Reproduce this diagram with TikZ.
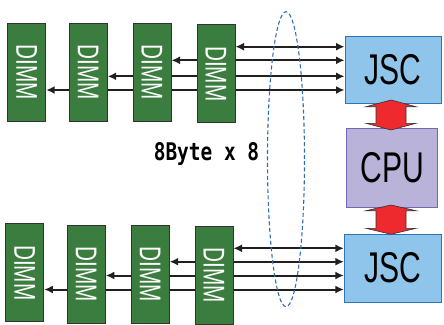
\documentclass[tikz,border=0pt]{standalone}
\usepackage{fontspec}
\usepackage{graphicx}
\setmainfont{Liberation Sans}
\newfontfamily\monob{DejaVu Sans Mono}
\usetikzlibrary{arrows.meta,backgrounds}
\definecolor{dimmgreen}{HTML}{3B7D3F}
\definecolor{dimmborder}{HTML}{333333}
\definecolor{jscfill}{HTML}{8FC5EA}
\definecolor{jscborder}{HTML}{2E75B6}
\definecolor{cpufill}{HTML}{B9B2D9}
\definecolor{cpuborder}{HTML}{6F6AB3}
\definecolor{redarrow}{HTML}{EE2A2F}
\definecolor{ellblue}{HTML}{2E6DB4}
\definecolor{linkcol}{HTML}{231F20}
\tikzset{
  dimm/.style={draw=dimmborder, line width=1pt, fill=dimmgreen, minimum width=38pt, minimum height=98pt, inner sep=0pt, text=white},
  jscbox/.style={draw=jscborder, line width=1pt, fill=jscfill, inner sep=0pt},
  cpubox/.style={draw=cpuborder, line width=1pt, fill=cpufill, inner sep=0pt},
  link/.style={draw=linkcol, line width=2pt, {Latex[length=8.5pt,width=8pt]}-{Latex[length=8.5pt,width=8pt]}},
  bigarrow/.style={draw=black!80, line width=0.6pt, fill=redarrow},
}
\newcommand{\dimmtext}{\rotatebox{-90}{\fontsize{30}{30}\selectfont\scalebox{0.69}[1]{DIMM}}}
\newcommand{\boxtext}[1]{\fontsize{43}{43}\selectfont\scalebox{0.7}[1]{#1}}
\begin{document}
\begin{tikzpicture}[x=1pt,y=-1pt]
\useasboundingbox (0,0) rectangle (444,324);
% boxes on the right
\node[jscbox, minimum width=96pt, minimum height=67pt] (jsc1) at (393,69.5) {\boxtext{JSC}};
\node[cpubox, minimum width=91pt, minimum height=79pt] (cpu) at (392.3,167.5) {\boxtext{CPU}};
\node[jscbox, minimum width=96.7pt, minimum height=68pt] (jsc2) at (392.7,268) {\boxtext{JSC}};
% DIMMs
\node[dimm] (d1) at (26.7,72.2) {\dimmtext};
\node[dimm] (d2) at (88.2,72.2) {\dimmtext};
\node[dimm] (d3) at (152,72.2) {\dimmtext};
\node[dimm] (d4) at (216,73.7) {\dimmtext};
\node[dimm] (e1) at (24.8,272.8) {\dimmtext};
\node[dimm] (e2) at (86.3,274) {\dimmtext};
\node[dimm] (e3) at (150.2,274) {\dimmtext};
\node[dimm] (e4) at (214,275) {\dimmtext};
% line heights
\coordinate (ya) at (0,46.7);
\coordinate (yb) at (0,60.3);
\coordinate (yc) at (0,76.3);
\coordinate (yd) at (0,90);
\coordinate (za) at (0,248.3);
\coordinate (zb) at (0,261.7);
\coordinate (zc) at (0,275.5);
\coordinate (zd) at (0,289.5);
\begin{scope}[on background layer]
\draw[link] (d3.east |- yb) -- (jsc1.west |- yb);
\draw[link] (d2.east |- yc) -- (jsc1.west |- yc);
\draw[link] (d1.east |- yd) -- (jsc1.west |- yd);
\draw[link] (e3.east |- zb) -- (jsc2.west |- zb);
\draw[link] (e2.east |- zc) -- (jsc2.west |- zc);
\draw[link] (e1.east |- zd) -- (jsc2.west |- zd);
\end{scope}
% direct double arrows
\draw[link] (d4.east |- ya) -- (jsc1.west |- ya);
\draw[link] (e4.east |- za) -- (jsc2.west |- za);
% dashed ellipse
\draw[ellblue, line width=1.1pt, dash pattern=on 4pt off 2.5pt] (286,159.2) ellipse [x radius=18.5pt, y radius=147.5pt];
% label
\node (lbl) at (206.5,154) {\monob\bfseries\fontsize{24.3}{24.3}\selectfont\scalebox{0.8}[1]{8Byte x 8}};
% red double arrows
\draw[bigarrow] (391,100) -- (416,106.7) -- (406,106.7) -- (406,123.3) -- (416,123.3) -- (391,130) -- (366,123.3) -- (376,123.3) -- (376,106.7) -- (366,106.7) -- cycle;
\draw[bigarrow] (391,205) -- (416,210.7) -- (406,210.7) -- (406,228.3) -- (416,228.3) -- (391,234.3) -- (366,228.3) -- (376,228.3) -- (376,210.7) -- (366,210.7) -- cycle;
\end{tikzpicture}
\end{document}
